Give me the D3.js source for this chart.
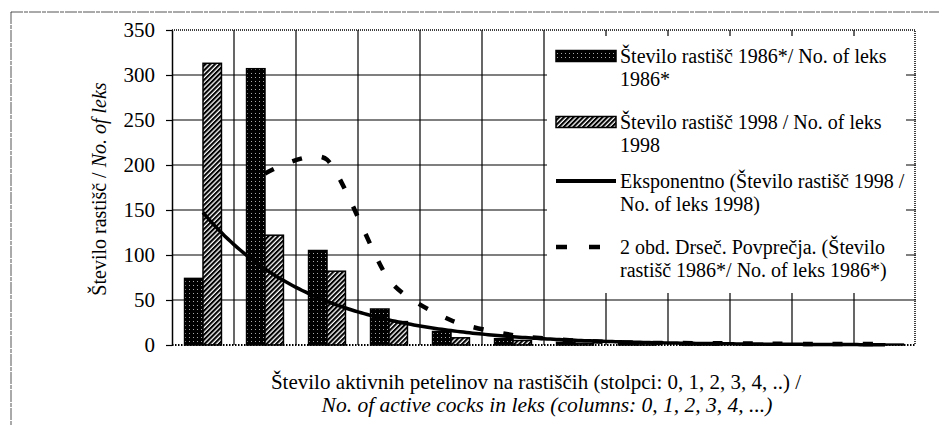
<!DOCTYPE html>
<html>
<head>
<meta charset="utf-8">
<script src="https://cdn.jsdelivr.net/npm/d3@7"></script>
<style>
  html, body { margin: 0; padding: 0; background: #fff; }
  svg { display: block; }
</style>
</head>
<body>
<div id="chart"></div>
<script>
const categories = ["0", "1", "2", "3", "4", "5", "6", "7", "8", "9", "10", "11"];
const leks1986 = [74, 307, 105, 40, 15, 7, 3, 2, 2, 1, 1, 1];
const leks1998 = [313, 122, 82, 26, 8, 5, 2, 2, 1, 1, 1, 1];
const yTicks = [0, 50, 100, 150, 200, 250, 300, 350];
const seriesKeys = ["1986", "1998"];
const legendItems = [
  { kind: "bar1986", lines: ["Število rastišč 1986*/ No. of leks", "1986*"] },
  { kind: "bar1998", lines: ["Število rastišč 1998 / No. of leks", "1998"] },
  { kind: "trend", lines: ["Eksponentno (Število rastišč 1998 /", "No. of leks 1998)"] },
  { kind: "avg", lines: ["2 obd. Drseč. Povprečja. (Število", "rastišč 1986*/ No. of leks 1986*)"] },
];

const WIDTH = 939;
const HEIGHT = 426;
const PLOT_LEFT = 172;
const PLOT_RIGHT = 916;
const PLOT_TOP = 30;
const PLOT_BOTTOM = 345;
const FONT = "Liberation Serif";
const FONT_SIZE = "20px";

const svg = d3.select("#chart")
  .append("svg")
  .attr("width", WIDTH)
  .attr("height", HEIGHT)
  .attr("viewBox", [0, 0, WIDTH, HEIGHT]);

// patterns for the bars
const defs = svg.append("defs");
const dots = defs.append("pattern")
  .attr("id", "dots")
  .attr("width", 4).attr("height", 4)
  .attr("patternUnits", "userSpaceOnUse");
dots.append("rect").attr("width", 4).attr("height", 4).attr("fill", "#000");
dots.append("rect").attr("x", 1).attr("y", 1).attr("width", 1).attr("height", 1).attr("fill", "#aaa");

const hatch = defs.append("pattern")
  .attr("id", "hatch")
  .attr("width", 3.4).attr("height", 3.4)
  .attr("patternUnits", "userSpaceOnUse")
  .attr("patternTransform", "rotate(45)");
hatch.append("rect").attr("width", 3.4).attr("height", 3.4).attr("fill", "#fff");
hatch.append("rect").attr("width", 2.1).attr("height", 3.4).attr("fill", "#000");

const x = d3.scaleBand()
  .domain(categories)
  .range([PLOT_LEFT, PLOT_RIGHT]);

const xSub = d3.scaleBand()
  .domain(seriesKeys)
  .range([0, x.bandwidth()])
  .paddingOuter(0.68)
  .paddingInner(0);

const y = d3.scaleLinear()
  .domain([0, 350])
  .range([PLOT_BOTTOM, PLOT_TOP]);

// outer chart frame (only top and left are inside the picture)
svg.append("rect")
  .attr("x", 11).attr("y", 12)
  .attr("width", 1200).attr("height", 1200)
  .attr("fill", "none")
  .attr("stroke", "#555")
  .attr("stroke-width", 1)
  .attr("stroke-dasharray", "12,1,4,1");

// gridlines
const grid = svg.append("g");
grid.selectAll(".hgrid")
  .data(yTicks.filter((t) => t > 0 && t < 350))
  .join("line")
  .attr("x1", PLOT_LEFT).attr("x2", PLOT_RIGHT)
  .attr("y1", (d) => y(d)).attr("y2", (d) => y(d))
  .attr("stroke", "#000")
  .attr("stroke-width", 1.2);

grid.selectAll(".vgrid")
  .data(categories.slice(1))
  .join("line")
  .attr("x1", (d) => x(d)).attr("x2", (d) => x(d))
  .attr("y1", PLOT_TOP).attr("y2", PLOT_BOTTOM)
  .attr("stroke", "#000")
  .attr("stroke-width", 1.2);

// plot border (dotted top / right)
svg.append("path")
  .attr("d", `M${PLOT_LEFT},${PLOT_TOP}H${PLOT_RIGHT - 1}V${PLOT_BOTTOM}`)
  .attr("fill", "none")
  .attr("stroke", "#000")
  .attr("stroke-width", 1.5)
  .attr("stroke-dasharray", "1,1");

// bars
const bars = svg.append("g")
  .selectAll("g")
  .data(categories)
  .join("g")
  .attr("transform", (d) => `translate(${x(d)},0)`);

bars.selectAll("rect")
  .data((d, i) => [
    { key: "1986", value: leks1986[i] },
    { key: "1998", value: leks1998[i] },
  ])
  .join("rect")
  .attr("x", (d) => xSub(d.key))
  .attr("y", (d) => y(d.value))
  .attr("width", xSub.bandwidth())
  .attr("height", (d) => y(0) - y(d.value))
  .attr("fill", (d) => (d.key === "1986" ? "url(#dots)" : "url(#hatch)"))
  .attr("stroke", "#000")
  .attr("stroke-width", 1.5);

// x axis line (dotted)
svg.append("line")
  .attr("x1", PLOT_LEFT).attr("x2", PLOT_RIGHT)
  .attr("y1", PLOT_BOTTOM).attr("y2", PLOT_BOTTOM)
  .attr("stroke", "#000")
  .attr("stroke-width", 2)
  .attr("stroke-dasharray", "1.5,1.5");

// y axis
const yAxis = svg.append("g")
  .attr("transform", `translate(${PLOT_LEFT},0)`)
  .call(d3.axisLeft(y).tickValues(yTicks).tickSize(6).tickSizeOuter(0).tickPadding(11));
yAxis.attr("font-family", FONT).attr("font-size", 21);
yAxis.select(".domain").attr("stroke", "#000").attr("stroke-width", 1.5);
yAxis.selectAll(".tick line").attr("stroke", "#000").attr("stroke-width", 1.2);
yAxis.selectAll(".tick text").attr("fill", "#000");

// exponential trend of 1998 (least squares on log values, x = 1..n)
function expFit(values) {
  const xs = values.map((v, i) => i + 1);
  const ls = values.map((v) => Math.log(v));
  const mx = d3.mean(xs);
  const ml = d3.mean(ls);
  const b = d3.sum(xs, (xv, i) => (xv - mx) * (ls[i] - ml)) / d3.sum(xs, (xv) => (xv - mx) ** 2);
  const a = Math.exp(ml - b * mx);
  return (t) => a * Math.exp(b * t);
}

const trend = expFit(leks1998);
const firstCenter = x(categories[0]) + x.bandwidth() / 2;
const trendPoints = [];
for (let k = 0; k <= 220; k++) {
  const t = 1 + (k / 220) * (categories.length - 1);
  trendPoints.push([firstCenter + (t - 1) * x.bandwidth(), y(trend(t))]);
}
svg.append("path")
  .attr("d", d3.line()(trendPoints))
  .attr("fill", "none")
  .attr("stroke", "#000")
  .attr("stroke-width", 3.5);

// 2 period moving average of 1986
const avgPoints = leks1986.slice(1).map((v, i) => ({
  cat: categories[i + 1],
  value: (leks1986[i] + v) / 2,
}));
svg.append("path")
  .attr("d", d3.line()
    .x((d) => x(d.cat) + x.bandwidth() / 2)
    .y((d) => y(d.value))
    .curve(d3.curveCardinal.tension(0.3))(avgPoints))
  .attr("fill", "none")
  .attr("stroke", "#000")
  .attr("stroke-width", 4.5)
  .attr("stroke-dasharray", "10,20");

// legend
const legend = svg.append("g")
  .attr("font-family", FONT)
  .attr("font-size", FONT_SIZE);
legend.append("rect")
  .attr("x", 547).attr("y", 36)
  .attr("width", 359).attr("height", 257)
  .attr("fill", "#fff");

const LEGEND_Y = [56, 122, 181, 247];
const items = legend.selectAll(".item")
  .data(legendItems)
  .join("g")
  .attr("transform", (d, i) => `translate(0,${LEGEND_Y[i]})`);

items.filter((d) => d.kind === "bar1986" || d.kind === "bar1998")
  .append("rect")
  .attr("x", 556).attr("y", -5.5)
  .attr("width", 60).attr("height", 11)
  .attr("fill", (d) => (d.kind === "bar1986" ? "url(#dots)" : "url(#hatch)"))
  .attr("stroke", "#000")
  .attr("stroke-width", 1.5);

items.filter((d) => d.kind === "trend")
  .append("line")
  .attr("x1", 556).attr("x2", 616)
  .attr("stroke", "#000")
  .attr("stroke-width", 4);

items.filter((d) => d.kind === "avg")
  .append("line")
  .attr("x1", 556).attr("x2", 616)
  .attr("stroke", "#000")
  .attr("stroke-width", 4.5)
  .attr("stroke-dasharray", "11,22");

items.append("text")
  .attr("fill", "#000")
  .selectAll("tspan")
  .data((d) => d.lines)
  .join("tspan")
  .attr("x", 620)
  .attr("y", (d, i) => i * 23)
  .attr("dy", "0.33em")
  .text((d) => d);

// axis titles
const titles = svg.append("g")
  .attr("font-family", FONT)
  .attr("font-size", FONT_SIZE)
  .attr("fill", "#000");

const yTitle = titles.append("text")
  .attr("transform", "translate(106,189) rotate(-90)")
  .attr("text-anchor", "middle");
yTitle.append("tspan").text("Število rastišč / ");
yTitle.append("tspan").attr("font-style", "italic").text("No. of leks");

titles.append("text")
  .attr("x", 536).attr("y", 389)
  .attr("text-anchor", "middle")
  .attr("font-size", 21)
  .text("Število aktivnih petelinov na rastiščih (stolpci: 0,  1, 2, 3, 4, ..) /");
titles.append("text")
  .attr("x", 547).attr("y", 412)
  .attr("text-anchor", "middle")
  .attr("font-style", "italic")
  .attr("font-size", 21.5)
  .text("No. of active cocks in leks (columns: 0, 1, 2, 3, 4, ...)");
</script>
</body>
</html>
